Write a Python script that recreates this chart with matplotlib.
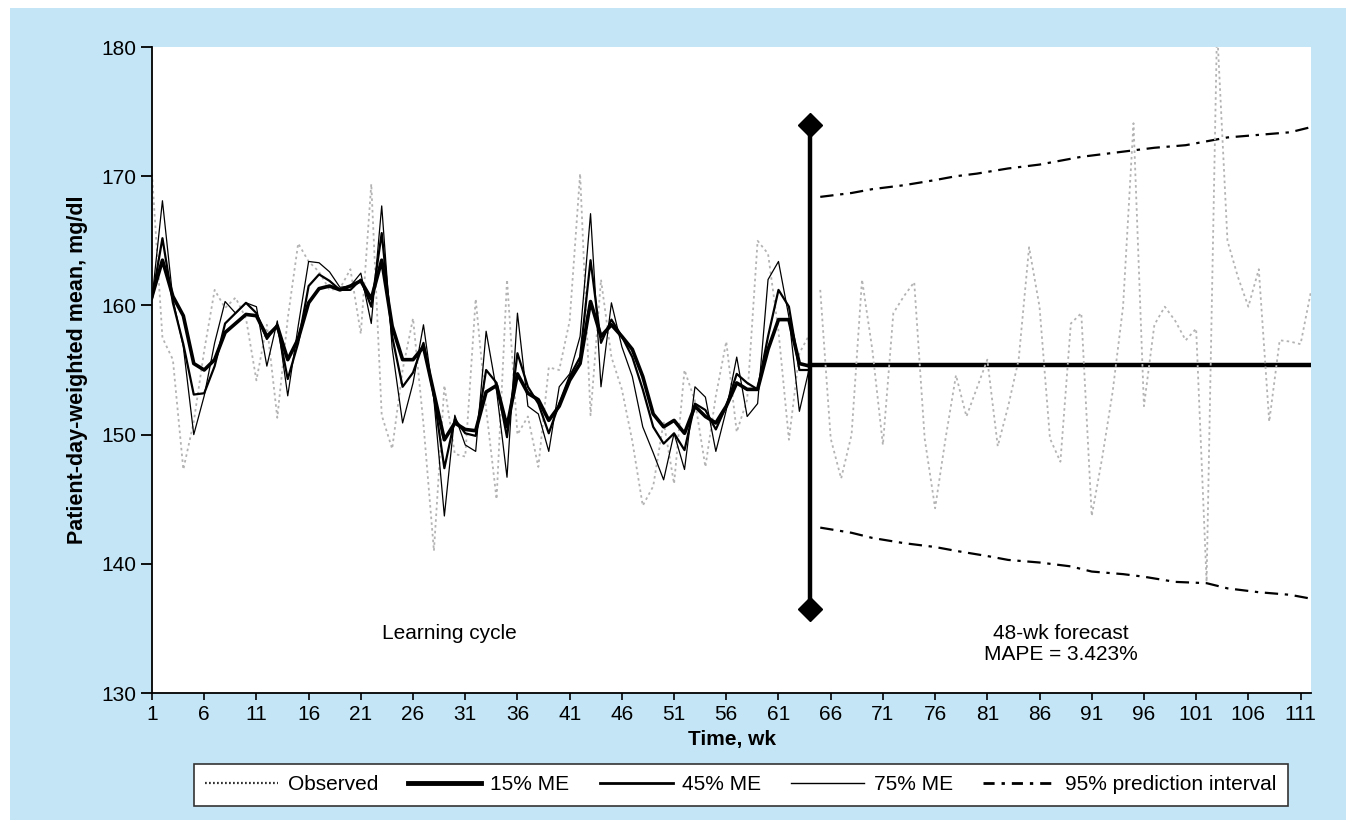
import matplotlib
matplotlib.use("Agg")
import matplotlib.pyplot as plt
from matplotlib.patches import Rectangle
from matplotlib.lines import Line2D

plt.rcParams['font.family'] = ['Liberation Sans', 'DejaVu Sans']

# Learning cycle, weeks 1-64
learn_weeks = list(range(1, 65))
observed_learn = [170.2, 157.5, 155.8, 147.3, 151.0, 156.5, 161.2, 159.8, 160.6, 159.0,
                  154.2, 158.5, 151.3, 159.0, 164.8, 163.4, 162.6, 161.2, 161.3, 162.8,
                  157.8, 169.4, 151.5, 148.9, 155.0, 159.0, 150.8, 141.0, 153.8, 148.5,
                  148.3, 160.5, 152.0, 145.0, 162.0, 150.0, 151.4, 147.5, 155.2, 155.0,
                  158.8, 170.2, 151.5, 162.0, 156.0, 153.5, 149.5, 144.5, 146.0, 151.0,
                  146.2, 155.0, 152.6, 147.5, 153.0, 157.2, 150.2, 152.7, 165.0, 164.0,
                  158.0, 149.6, 156.3, 157.8]
me15 = [160.7, 163.5, 160.7, 159.2, 155.5, 155.0, 155.8, 157.9, 158.6, 159.3,
        159.2, 157.6, 158.4, 155.8, 157.4, 160.2, 161.3, 161.5, 161.2, 161.5,
        161.9, 160.5, 163.5, 158.4, 155.8, 155.8, 156.8, 153.2, 149.6, 150.9,
        150.4, 150.3, 153.3, 153.8, 150.6, 154.7, 153.2, 152.7, 151.1, 152.2,
        154.2, 155.5, 160.3, 157.6, 158.5, 157.6, 156.6, 154.5, 151.6, 150.6,
        151.1, 150.1, 152.2, 151.4, 150.9, 152.2, 154.0, 153.5, 153.5, 156.6,
        158.9, 158.9, 155.5, 155.3]
me45 = [160.5, 165.2, 160.2, 157.0, 153.1, 153.2, 155.3, 158.6, 159.4, 160.2,
        159.4, 157.4, 158.5, 154.3, 157.1, 161.5, 162.4, 161.9, 161.2, 161.2,
        162.0, 159.9, 165.6, 157.6, 153.7, 154.8, 157.1, 153.0, 147.4, 151.2,
        150.1, 149.9, 155.0, 154.0, 149.8, 156.3, 153.7, 152.4, 150.1, 152.4,
        154.5, 156.0, 163.5, 157.1, 158.9, 157.6, 156.0, 153.5, 150.6, 149.3,
        150.1, 148.8, 152.4, 151.9, 150.4, 152.2, 154.7, 154.0, 153.5, 157.6,
        161.2, 159.9, 155.0, 155.0]
me75 = [160.5, 168.1, 160.5, 156.8, 150.0, 153.0, 157.1, 160.3, 159.4, 160.2,
        159.9, 155.3, 158.8, 153.0, 158.4, 163.4, 163.3, 162.6, 161.4, 161.5,
        162.5, 158.6, 167.7, 156.7, 150.9, 154.0, 158.5, 152.7, 143.7, 151.5,
        149.2, 148.7, 158.0, 153.4, 146.7, 159.4, 152.2, 151.6, 148.7, 153.7,
        154.7, 157.6, 167.1, 153.7, 160.2, 156.8, 154.5, 150.6, 148.6, 146.5,
        150.1, 147.3, 153.7, 152.9, 148.7, 151.9, 156.0, 151.4, 152.4, 162.0,
        163.4, 159.1, 151.8, 155.3]

# 48-week forecast, weeks 65-112
fc_weeks = list(range(65, 113))
observed_fc = [161.2, 149.7, 146.6, 150.0, 162.0, 156.5, 149.2, 159.4, 160.7, 161.8,
               149.7, 144.3, 149.7, 154.6, 151.4, 153.6, 155.8, 149.1, 152.2, 155.8,
               164.5, 159.9, 149.7, 147.9, 158.6, 159.4, 143.7, 148.2, 153.3, 159.9,
               174.1, 152.2, 158.5, 159.9, 158.8, 157.3, 158.2, 138.6, 181.5, 165.0,
               162.2, 159.9, 162.8, 151.0, 157.3, 157.2, 157.0, 161.1]
forecast_level = 155.4
forecast_start, forecast_end = 64, 112

pi_up_weeks = [65, 68, 70, 73, 76, 78, 80, 83, 86, 88, 90, 93, 95, 97, 100, 102, 104, 107, 110, 112]
pi_upper = [168.4, 168.7, 169.0, 169.3, 169.7, 170.0, 170.2, 170.6, 170.9, 171.2,
            171.5, 171.8, 172.0, 172.2, 172.4, 172.7, 173.0, 173.2, 173.4, 173.8]
pi_lo_weeks = [65, 68, 70, 73, 76, 78, 81, 83, 86, 89, 91, 94, 96, 99, 102, 104, 107, 110, 112]
pi_lower = [142.8, 142.4, 142.0, 141.6, 141.3, 141.0, 140.6, 140.3, 140.1, 139.8,
            139.4, 139.2, 139.0, 138.6, 138.5, 138.1, 137.8, 137.6, 137.3]

split_bar = (136.5, 174.0)

W, H = 1356, 827
fig = plt.figure(figsize=(W / 100, H / 100), dpi=100)
fig.patches.append(Rectangle((10 / W, 7 / H), 1336 / W, 812 / H, transform=fig.transFigure,
                             facecolor='#c4e5f6', edgecolor='none', zorder=-10))
ax = fig.add_axes([152 / W, 1 - 693 / H, (1311 - 152) / W, (693 - 47) / H])
ax.set_facecolor('white')

obs_style = dict(color='#b3b3b3', lw=1.3, ls=(0, (1.4, 1.8)))
pi_style = dict(color='black', lw=1.6, ls=(0, (6, 3, 1.5, 3)))
ax.plot(learn_weeks, observed_learn, zorder=2, **obs_style)
ax.plot(learn_weeks, me75, color='black', lw=0.9, zorder=3)
ax.plot(learn_weeks, me45, color='black', lw=1.6, zorder=3)
ax.plot(learn_weeks, me15, color='black', lw=2.6, zorder=3)

ax.plot([forecast_start, forecast_end], [forecast_level, forecast_level], color='black', lw=3.2, zorder=3)
ax.plot(fc_weeks, observed_fc, zorder=4, **obs_style)
ax.plot(pi_up_weeks, pi_upper, zorder=3, **pi_style)
ax.plot(pi_lo_weeks, pi_lower, zorder=3, **pi_style)
ax.plot([forecast_start, forecast_start], split_bar, color='black', lw=3.2, marker='D', ms=12, zorder=5)

ax.set_xlim(1, 112)
ax.set_ylim(130, 180)
ax.set_xticks(range(1, 112, 5))
ax.set_yticks(range(130, 181, 10))
for s in ['top', 'right']:
    ax.spines[s].set_visible(False)
for s in ['left', 'bottom']:
    ax.spines[s].set_linewidth(1.3)
ax.tick_params(axis='y', length=8, width=1.3, labelsize=15, pad=3)
ax.tick_params(axis='x', length=5, width=1.2, labelsize=15, pad=4)

ax.set_ylabel('Patient-day-weighted mean, mg/dl', fontsize=15.5, fontweight='bold', labelpad=10)
ax.set_xlabel('Time, wk', fontsize=15, fontweight='bold', labelpad=4)

ax.text(29.5, 134.6, 'Learning cycle', ha='center', va='center', fontsize=15)
ax.text(88.0, 133.8, '48-wk forecast\nMAPE = 3.423%', ha='center', va='center', fontsize=15, linespacing=1.15)

handles = [Line2D([], [], color='#333333', lw=1.6, ls=(0, (0.8, 1.0))),
           Line2D([], [], color='black', lw=3.5),
           Line2D([], [], color='black', lw=2.0),
           Line2D([], [], color='black', lw=1.0),
           Line2D([], [], color='black', lw=2.0, ls=(0, (4, 2.5, 1.2, 2.5)))]
names = ['Observed', '15% ME', '45% ME', '75% ME', '95% prediction interval']
leg = fig.legend(handles, names, loc='center', ncol=5,
                 bbox_to_anchor=(741 / W, 1 - 785 / H),
                 fancybox=False, edgecolor='#333333', framealpha=1,
                 handlelength=3.5, handletextpad=0.45, columnspacing=1.45,
                 borderpad=0.55, borderaxespad=0, fontsize=15)
leg.get_frame().set_linewidth(1.2)

fig.savefig('out.png', dpi=100)
